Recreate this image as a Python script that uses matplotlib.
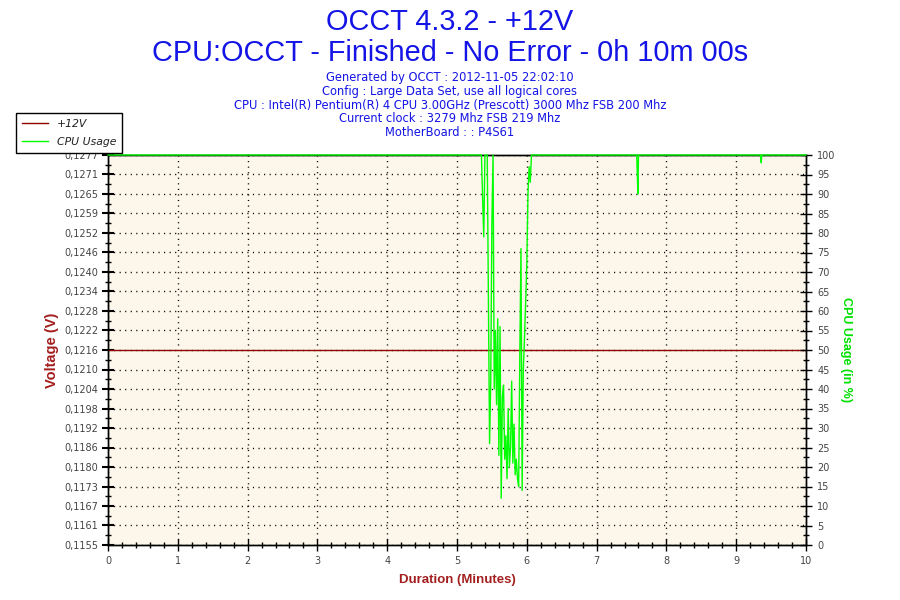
import matplotlib
matplotlib.use('Agg')
import matplotlib.pyplot as plt
import numpy as np
from matplotlib.ticker import AutoMinorLocator
from matplotlib.lines import Line2D

# ---------------- data ----------------
title_lines = ["OCCT 4.3.2 - +12V", "CPU:OCCT - Finished - No Error - 0h 10m 00s"]
info_lines = [
    "Generated by OCCT : 2012-11-05 22:02:10",
    "Config : Large Data Set, use all logical cores",
    "CPU : Intel(R) Pentium(R) 4 CPU 3.00GHz (Prescott) 3000 Mhz FSB 200 Mhz",
    "Current clock : 3279 Mhz FSB 219 Mhz",
    "MotherBoard : : P4S61",
]
volt_tick_labels = ['0,1155', '0,1161', '0,1167', '0,1173', '0,1180', '0,1186', '0,1192',
                    '0,1198', '0,1204', '0,1210', '0,1216', '0,1222', '0,1228', '0,1234',
                    '0,1240', '0,1246', '0,1252', '0,1259', '0,1265', '0,1271', '0,1277']
volt_min, volt_max = 0.1155, 0.1277
volt_minutes = [0, 10]
volt_values = [0.1216, 0.1216]

cpu_seconds = [0, 321, 322, 323, 324, 326, 327, 328, 329, 330, 331, 332, 333, 334, 335,
               336, 337, 338, 339, 340, 341, 342, 343, 344, 345, 346, 347, 348, 349, 350,
               351, 352, 353, 354, 355, 356, 357, 358, 359, 360, 361, 362, 363, 364,
               454.5, 455, 455.5, 456, 561, 561.5, 562, 600]
cpu_values = [100, 100, 89, 79, 100, 100, 63, 26, 42, 83, 100, 40, 55, 36, 58,
              23, 56, 12, 38, 41, 22, 28, 17, 35, 20, 25, 42, 21, 31, 18,
              22, 17, 15, 49, 76, 14, 45, 53, 62, 72, 90, 97, 93, 100,
              100, 95, 90, 100, 100, 98, 100, 100]
cpu_ticks = list(range(0, 101, 5))
x_ticks = list(range(0, 11))

# ---------------- style ----------------
BLUE = '#1414E6'
DARKRED = '#A31F1F'
VOLT = '#8E0000'
GREEN = '#00FF00'
TICKC = '#444444'

fig = plt.figure(figsize=(9, 6), dpi=100)
fig.patch.set_facecolor('white')
ax = fig.add_axes([108/900, 1-545/600, (806-108)/900, (545-155)/600])
ax.set_facecolor('#FCF7EA')

cpu_minutes = [s / 60 for s in cpu_seconds]

ax.plot(volt_minutes, volt_values, color=VOLT, lw=1.0, zorder=3)
ax.set_xlim(0, 10)
ax.set_ylim(volt_min, volt_max)
ax.set_yticks(np.linspace(volt_min, volt_max, len(volt_tick_labels)))
ax.set_yticklabels(volt_tick_labels)
ax.yaxis.set_minor_locator(AutoMinorLocator(2))
ax.set_xticks(x_ticks)
ax.xaxis.set_minor_locator(AutoMinorLocator(5))
ax.grid(True, which='major', color='black', linestyle=(0, (0.8, 3.2)), lw=1.0)
ax.set_axisbelow(True)

ax2 = ax.twinx()
ax2.plot(cpu_minutes, cpu_values, color=GREEN, lw=1.0, clip_on=False, zorder=4)
ax2.set_ylim(0, 100)
ax2.set_yticks(cpu_ticks)
ax2.yaxis.set_minor_locator(AutoMinorLocator(2))

for a in (ax, ax2):
    for sp in a.spines.values():
        sp.set_color('black')
        sp.set_linewidth(1.0)
    a.tick_params(which='major', direction='inout', length=8, width=1, color='black',
                  labelsize=7, labelcolor=TICKC)
    a.tick_params(which='minor', direction='inout', length=5, width=1, color='black')
ax.tick_params(axis='y', which='major', pad=3, width=1.5)
ax.tick_params(axis='x', which='major', pad=4)
ax2.tick_params(axis='y', which='major', pad=4)

ax.set_xlabel('Duration (Minutes)', fontfamily='Liberation Sans', fontweight='bold',
              fontsize=9.5, color=DARKRED, labelpad=6)
ax.set_ylabel('Voltage (V)', fontfamily='Liberation Sans', fontweight='bold',
              fontsize=10.5, color=DARKRED, labelpad=4)
ax2.set_ylabel('CPU Usage (in %)', fontfamily='Liberation Sans', fontweight='bold',
               fontsize=9, color='#00E000', rotation=-90, labelpad=12)

# titles
fig.text(0.5, 1-22.5/600, title_lines[0], ha='center', va='center', fontsize=20.8,
         fontfamily='Liberation Sans', color=BLUE)
fig.text(0.5, 1-53/600, title_lines[1], ha='center', va='center', fontsize=20.8,
         fontfamily='Liberation Sans', color=BLUE)
info_baselines = [81.5, 95, 108.5, 122, 135.5]
for line, yy in zip(info_lines, info_baselines):
    fig.text(0.5, 1-yy/600, line, ha='center', va='baseline', fontsize=8.3,
             fontfamily='DejaVu Sans', color=BLUE)

# legend
handles = [Line2D([], [], color=VOLT, lw=1.0), Line2D([], [], color=GREEN, lw=1.0)]
leg = fig.legend(handles, ['+12V', 'CPU Usage'], loc='upper left',
                 bbox_to_anchor=(16/900, 1-113/600), frameon=True, fancybox=False,
                 edgecolor='black', facecolor='white', framealpha=1, borderaxespad=0,
                 handlelength=2.4, handletextpad=0.8, borderpad=0.55, labelspacing=0.75,
                 prop={'family': 'DejaVu Sans', 'style': 'italic', 'size': 7.8})
leg.get_frame().set_linewidth(1.0)
for t in leg.get_texts():
    t.set_color('#222222')

fig.savefig('out.png', dpi=100)
